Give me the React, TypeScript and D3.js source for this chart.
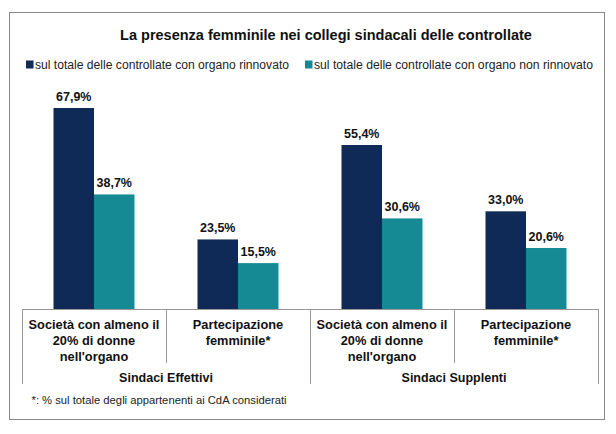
import React from "react";
import * as d3 from "d3";

const title = "La presenza femminile nei collegi sindacali delle controllate";
const seriesNames = [
  "sul totale delle controllate con organo rinnovato",
  "sul totale delle controllate con organo non rinnovato",
];
const categories = [
  ["Società con almeno il", "20% di donne", "nell'organo"],
  ["Partecipazione", "femminile*"],
  ["Società con almeno il", "20% di donne", "nell'organo"],
  ["Partecipazione", "femminile*"],
];
const groups = ["Sindaci Effettivi", "Sindaci Supplenti"];
const rinnovato = [67.9, 23.5, 55.4, 33.0];
const nonRinnovato = [38.7, 15.5, 30.6, 20.6];
const footnote = "*: % sul totale degli appartenenti ai CdA considerati";

const colors = ["#0f2a56", "#158a95"];
const font = "Liberation Sans, Arial, sans-serif";

export default function App() {
  const W = 616, H = 434;
  const x0 = 22, x1 = 598, baseY = 309;
  const x = d3.scaleBand<number>().domain(d3.range(categories.length)).range([x0, x1]);
  const y = d3.scaleLinear().domain([0, 67.9]).range([baseY, 108]);
  const bw = 40.5;
  const fmt = (v: number) => v.toFixed(1).replace(".", ",") + "%";
  const series = [rinnovato, nonRinnovato];
  const legendX = [26, 305];
  const legendLen = [254, 279];

  return (
    <svg width={W} height={H} style={{ position: "absolute", left: 0, top: 0, fontFamily: font }}>
      <rect x={0} y={0} width={W} height={H} fill="#fff" />
      <rect x={9.5} y={12.5} width={595} height={407} fill="none" stroke="#8a8a8a" strokeWidth={1} />
      <text x={326} y={39.5} textAnchor="middle" fontSize={14.5} fontWeight="bold" fill="#111">{title}</text>
      {seriesNames.map((s, i) => {
        const lx = legendX[i];
        return (
          <g key={i}>
            <rect x={lx} y={60.5} width={7.5} height={8} fill={colors[i]} />
            <text x={lx + 9} y={69} fontSize={12} fill="#222" textLength={legendLen[i]} lengthAdjust="spacingAndGlyphs">{s}</text>
          </g>
        );
      })}
      {series.map((vals, si) =>
        vals.map((v, ci) => {
          const cx = (x(ci) as number) + x.bandwidth() / 2;
          const bx = si === 0 ? cx - bw : cx;
          return (
            <g key={si + "-" + ci}>
              <rect x={bx} y={y(v)} width={bw} height={baseY - y(v)} fill={colors[si]} />
              <text x={bx + bw / 2} y={y(v) - 7} textAnchor="middle" fontSize={12.5} fontWeight="bold" fill="#111">{fmt(v)}</text>
            </g>
          );
        })
      )}
      <line x1={x0} x2={x1} y1={baseY + 0.5} y2={baseY + 0.5} stroke="#999" />
      {d3.range(categories.length + 1).map((i) => {
        const tx = Math.round(x0 + i * x.step()) + 0.5;
        const long = i % 2 === 0;
        return <line key={i} x1={tx} x2={tx} y1={baseY} y2={long ? 384 : 363} stroke="#999" />;
      })}
      {categories.map((lines, ci) => {
        const cx = (x(ci) as number) + x.bandwidth() / 2;
        return (
          <text key={ci} textAnchor="middle" fontSize={12.8} fontWeight="bold" fill="#111">
            {lines.map((l, li) => (
              <tspan key={li} x={cx} y={329 + li * 16}>{l}</tspan>
            ))}
          </text>
        );
      })}
      {groups.map((g, gi) => (
        <text key={gi} x={x0 + (gi * 2 + 1) * x.step()} y={382} textAnchor="middle" fontSize={12.5} fontWeight="bold" fill="#111">{g}</text>
      ))}
      <text x={31.5} y={404} fontSize={11.5} fill="#222" textLength={255} lengthAdjust="spacingAndGlyphs">{footnote}</text>
    </svg>
  );
}
